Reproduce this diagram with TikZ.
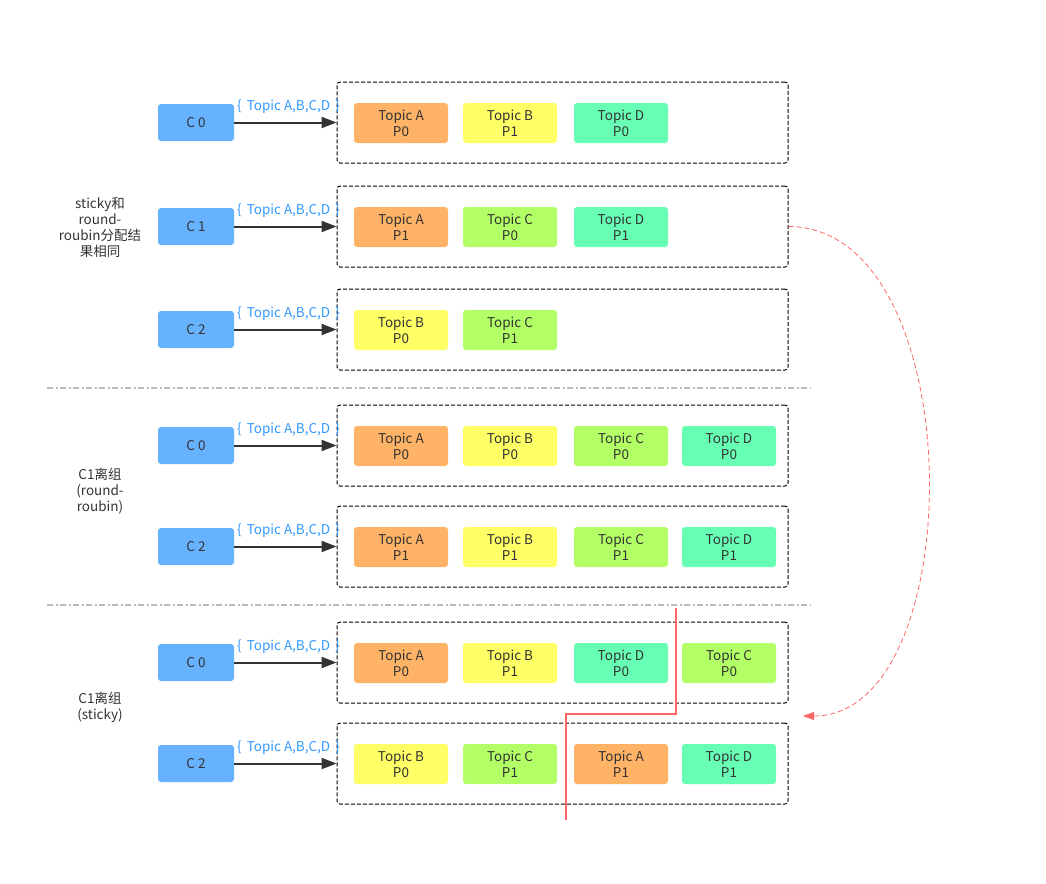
\documentclass[tikz,border=0pt]{standalone}
\usepackage{fontspec}
\setmainfont{Noto Sans CJK SC}
\usetikzlibrary{arrows.meta,calc}
\definecolor{cblue}{HTML}{66B2FF}
\definecolor{ta}{HTML}{FFB366}
\definecolor{tb}{HTML}{FFFF66}
\definecolor{tc}{HTML}{B3FF66}
\definecolor{td}{HTML}{66FFB3}
\definecolor{txt}{HTML}{333333}
\definecolor{lblue}{HTML}{3399FF}
\definecolor{redl}{HTML}{FF6666}
\definecolor{sepc}{HTML}{BBBBBB}
\tikzset{
  base/.style={inner sep=0pt, font=\fontsize{13.5}{16}\selectfont, text=txt, align=center},
  cbox/.style={base, fill=cblue, rounded corners=3pt, minimum width=76pt, minimum height=37pt},
  tbox/.style={base, rounded corners=3pt, minimum width=94pt, minimum height=40pt},
  cont/.style={draw=black, line width=1pt, dash pattern=on 4pt off 2pt, rounded corners=3pt, minimum width=451pt, minimum height=81pt, inner sep=0pt},
  arr/.style={draw=txt, line width=2pt, -{Triangle[length=15pt,width=11pt]}},
  lbl/.style={inner sep=0pt, anchor=west, font=\fontsize{13.5}{16}\selectfont, text=lblue},
  side/.style={base},
  sep/.style={draw=sepc, line width=1.5pt, dash pattern=on 6pt off 2.5pt on 2pt off 2.5pt},
}
\newcommand{\crow}[3]{%
  \node[cbox] (c#1) at (196,#2) {#3};
  \node[cont] (k#1) at (562.5,#2) {};
  \draw[arr] (c#1.east) -- (k#1.west);
  \node[lbl] (l#1) at (237,#2-16) {\{\hspace{5pt}Topic A,B,C,D\hspace{5pt}\}};
}
\newcommand{\tb}[5]{% row, slot x, y, color, text
  \node[tbox, fill=#4] (t#1#2) at (#2,#3) {#5};
}
\begin{document}
\begin{tikzpicture}[x=1pt,y=-1pt]
\useasboundingbox (0,0) rectangle (1046,883);
% row 1
\crow{1}{122.5}{C 0}
\tb{1}{401}{123}{ta}{Topic A\\P0}
\tb{1}{510}{123}{tb}{Topic B\\P1}
\tb{1}{621}{123}{td}{Topic D\\P0}
% row 2
\crow{2}{226.5}{C 1}
\tb{2}{401}{227}{ta}{Topic A\\P1}
\tb{2}{510}{227}{tc}{Topic C\\P0}
\tb{2}{621}{227}{td}{Topic D\\P1}
% row 3
\crow{3}{329.5}{C 2}
\tb{3}{401}{330}{tb}{Topic B\\P0}
\tb{3}{510}{330}{tc}{Topic C\\P1}
% row 4
\crow{4}{445.5}{C 0}
\tb{4}{401}{446}{ta}{Topic A\\P0}
\tb{4}{510}{446}{tb}{Topic B\\P0}
\tb{4}{621}{446}{tc}{Topic C\\P0}
\tb{4}{729}{446}{td}{Topic D\\P0}
% row 5
\crow{5}{546.5}{C 2}
\tb{5}{401}{547}{ta}{Topic A\\P1}
\tb{5}{510}{547}{tb}{Topic B\\P1}
\tb{5}{621}{547}{tc}{Topic C\\P1}
\tb{5}{729}{547}{td}{Topic D\\P1}
% row 6
\crow{6}{662.5}{C 0}
\tb{6}{401}{663}{ta}{Topic A\\P0}
\tb{6}{510}{663}{tb}{Topic B\\P1}
\tb{6}{621}{663}{td}{Topic D\\P0}
\tb{6}{729}{663}{tc}{Topic C\\P0}
% row 7
\crow{7}{763.5}{C 2}
\tb{7}{401}{764}{tb}{Topic B\\P0}
\tb{7}{510}{764}{tc}{Topic C\\P1}
\tb{7}{621}{764}{ta}{Topic A\\P1}
\tb{7}{729}{764}{td}{Topic D\\P1}
% side labels
\node[side] (s1) at (100,227) {sticky和\\round-\\roubin分配结\\果相同};
\node[side] (s2) at (100,491) {C1离组\\(round-\\roubin)};
\node[side] (s3) at (100,707) {C1离组\\(sticky)};
% separators
\coordinate (sepa1) at (47,388); \coordinate (sepa2) at (811,388);
\coordinate (sepb1) at (47,605); \coordinate (sepb2) at (811,605);
\draw[sep] (sepa1) -- (sepa2);
\draw[sep] (sepb1) -- (sepb2);
% red dashed curve
\coordinate (rend) at (803,716);
\draw[redl, line width=0.8pt, dash pattern=on 5pt off 3pt, -{Triangle[length=11pt,width=8pt]}]
  (k2.east) .. controls (972,227) and (972,716) .. (rend);
% red solid polyline
\coordinate (r1) at (676,608);
\coordinate (r2) at (676,714);
\coordinate (r3) at (566,714);
\coordinate (r4) at (566,820);
\draw[redl, line width=1.8pt] (r1) -- (r2) -- (r3) -- (r4);
\end{tikzpicture}
\end{document}
